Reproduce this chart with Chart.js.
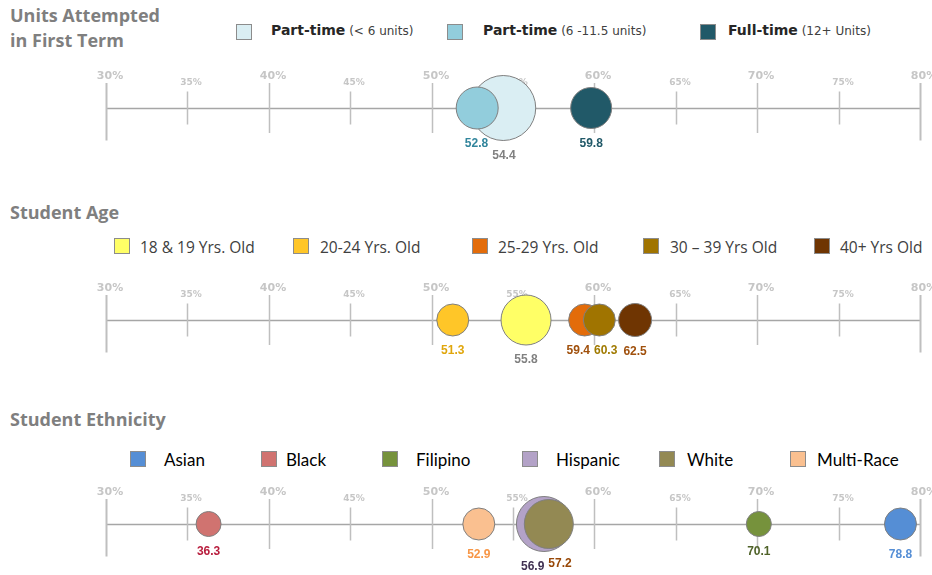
<!DOCTYPE html>
<html>
<head>
<meta charset="utf-8">
<script src="https://cdn.jsdelivr.net/npm/chart.js@4.4.1/dist/chart.umd.min.js"></script>
<style>
  body { margin:0; width:932px; height:575px; overflow:hidden; background:#fff; position:relative; }
  .title { position:absolute; left:10px; font:bold 18px "Open Sans", sans-serif; color:#7f7f7f; line-height:25px; }
  .sw { position:absolute; width:16px; height:16px; box-sizing:border-box; border:1px solid #8c8c8c; }
  .lt { position:absolute; line-height:20px; white-space:nowrap; }
  canvas { position:absolute; left:0; }
</style>
</head>
<body>
<div class="title" style="top:3px">Units Attempted<br>in First Term</div>
<div class="title" style="top:200px">Student Age</div>
<div class="title" style="top:407px">Student Ethnicity</div>
<div id="leg1"></div>
<div id="leg2"></div>
<div id="leg3"></div>
<canvas id="units" width="932" height="110" style="top:53px"></canvas>
<canvas id="age" width="932" height="110" style="top:265px"></canvas>
<canvas id="eth" width="932" height="110" style="top:469px"></canvas>
<script>
// data
const tickValues = [30, 35, 40, 45, 50, 55, 60, 65, 70, 75, 80];

const unitsCats  = ['Part-time', 'Part-time', 'Full-time'];
const unitsNotes = ['(< 6 units)', '(6 -11.5 units)', '(12+ Units)'];
const unitsValues = [54.4, 52.8, 59.8];
const unitsSizes  = [32.5, 21, 20.5];

const ageCats   = ['18 & 19 Yrs. Old', '20-24 Yrs. Old', '25-29 Yrs. Old', '30 \u2013 39 Yrs Old', '40+ Yrs Old'];
const ageValues = [55.8, 51.3, 59.4, 60.3, 62.5];
const ageSizes  = [25, 16, 16, 16, 16.5];

const ethCats   = ['Asian', 'Black', 'Filipino', 'Hispanic', 'White', 'Multi-Race'];
const ethValues = [78.8, 36.3, 70.1, 56.9, 57.2, 52.9];
const ethSizes  = [16, 12.5, 12.5, 27.5, 24.5, 16];

// styles
const unitsFill  = ['#daeef3', '#92cddc', '#215968'];
const unitsLabel = ['#808080', '#31859c', '#215968'];
const ageFill  = ['#ffff66', '#ffc628', '#e36c0a', '#a07400', '#6f3502'];
const ageLabel = ['#808080', '#e0a60c', '#a0500c', '#a07a00', '#a0500c'];
const ethFill  = ['#558ed5', '#d07370', '#76923c', '#b3a2c7', '#938953', '#fac090'];
const ethLabel = ['#558ed5', '#b81c3c', '#4f6228', '#403152', '#984807', '#f79646'];

// legends (square x, text x, row center y)
function legend(id, cats, fills, xs, cy, font, color, notes) {
  const box = document.getElementById(id);
  cats.forEach((c, i) => {
    const sw = document.createElement('div');
    sw.className = 'sw';
    sw.style.left = xs[i][0] + 'px';
    sw.style.top = (cy - 8) + 'px';
    sw.style.background = fills[i];
    box.appendChild(sw);
    const t = document.createElement('div');
    t.className = 'lt';
    t.style.left = xs[i][1] + 'px';
    t.style.top = (cy - 10) + 'px';
    t.style.font = font;
    t.style.color = color;
    t.textContent = c;
    if (notes) {
      const n = document.createElement('span');
      n.style.font = '12px "DejaVu Sans", sans-serif';
      n.style.color = '#404040';
      n.textContent = ' ' + notes[i];
      t.appendChild(n);
    }
    box.appendChild(t);
  });
}
legend('leg1', unitsCats, unitsFill,
  [[236, 271], [447, 483], [700, 728]], 32, 'bold 14px "DejaVu Sans", sans-serif', '#262626', unitsNotes);
legend('leg2', ageCats, ageFill,
  [[114, 140], [293, 320], [472, 498], [643, 670], [814, 840]], 246, '15.5px "Open Sans", sans-serif', '#404040');
legend('leg3', ethCats, ethFill,
  [[130, 164], [261, 286], [382, 416], [522, 556], [659, 687], [790, 817]], 459, '17px Lato, sans-serif', '#000');

// axis line, tick marks and tick labels, drawn under the bubbles
const ruler = {
  id: 'ruler',
  beforeDatasetsDraw(chart) {
    const {ctx, scales: {x, y}} = chart;
    const y0 = Math.round(y.getPixelForValue(0)) + 0.5;
    const first = tickValues[0], last = tickValues[tickValues.length - 1];
    ctx.save();
    ctx.strokeStyle = '#a6a6a6';
    ctx.lineWidth = 1.3;
    ctx.beginPath();
    ctx.moveTo(x.getPixelForValue(first), y0);
    ctx.lineTo(x.getPixelForValue(last), y0);
    ctx.stroke();
    ctx.textAlign = 'center';
    ctx.textBaseline = 'alphabetic';
    for (const v of tickValues) {
      const px = Math.round(x.getPixelForValue(v)) + 0.5;
      const end = v === first || v === last;
      const major = v % 10 === 0;
      const up = major ? 25.5 : 17;
      const down = end ? 32 : (major ? 24.5 : 16);
      ctx.strokeStyle = '#bfbfbf';
      ctx.lineWidth = end ? 2 : 1.5;
      ctx.beginPath();
      ctx.moveTo(px, y0 - up);
      ctx.lineTo(px, y0 + down);
      ctx.stroke();
      ctx.fillStyle = '#c6c6c6';
      ctx.font = major ? 'bold 11px "DejaVu Sans"' : 'bold 9px "DejaVu Sans"';
      ctx.fillText(v + '%', px + 3.5, y0 - (major ? 30 : 24));
    }
    ctx.restore();
  }
};

// value labels under each bubble, nudged sideways when two would collide
const valueLabels = {
  id: 'valueLabels',
  afterDatasetsDraw(chart) {
    const {ctx} = chart;
    const ds = chart.data.datasets[0];
    const meta = chart.getDatasetMeta(0);
    ctx.save();
    ctx.font = 'bold 12px "Liberation Sans"';
    ctx.textAlign = 'center';
    ctx.textBaseline = 'middle';
    const items = meta.data.map((el, i) => {
      const d = ds.data[i];
      const text = d.x.toFixed(1);
      return {text, color: ds.labelColors[i], x: el.x, y: el.y + d.r + 15, w: ctx.measureText(text).width};
    }).sort((a, b) => a.x - b.x);
    for (let k = 1; k < items.length; k++) {
      const a = items[k - 1], b = items[k];
      const need = (a.w + b.w) / 2 + 4;
      if (Math.abs(a.y - b.y) < 13 && b.x - a.x < need) {
        const shift = (need - (b.x - a.x)) / 2;
        a.x -= shift;
        b.x += shift;
      }
    }
    items.forEach(it => {
      ctx.fillStyle = it.color;
      ctx.fillText(it.text, it.x, it.y);
    });
    ctx.restore();
  }
};

function panel(id, values, sizes, fills, labelColors) {
  // larger bubbles go behind smaller ones
  const order = values.map((v, i) => i).sort((a, b) => sizes[b] - sizes[a]);
  return new Chart(document.getElementById(id), {
    type: 'bubble',
    data: {
      datasets: [{
        data: order.map(i => ({x: values[i], y: 0, r: sizes[i]})),
        backgroundColor: order.map(i => fills[i]),
        labelColors: order.map(i => labelColors[i]),
        borderColor: '#7f7f7f',
        borderWidth: 1,
        clip: false
      }]
    },
    options: {
      responsive: false,
      animation: false,
      events: [],
      layout: {autoPadding: false, padding: {left: 106, right: 12, top: 0, bottom: 0}},
      scales: {
        x: {type: 'linear', min: 30, max: 80, display: false},
        y: {type: 'linear', min: -1, max: 1, display: false}
      },
      plugins: {legend: {display: false}, tooltip: {enabled: false}}
    },
    plugins: [ruler, valueLabels]
  });
}

panel('units', unitsValues, unitsSizes, unitsFill, unitsLabel);
panel('age', ageValues, ageSizes, ageFill, ageLabel);
panel('eth', ethValues, ethSizes, ethFill, ethLabel);
</script>
</body>
</html>
